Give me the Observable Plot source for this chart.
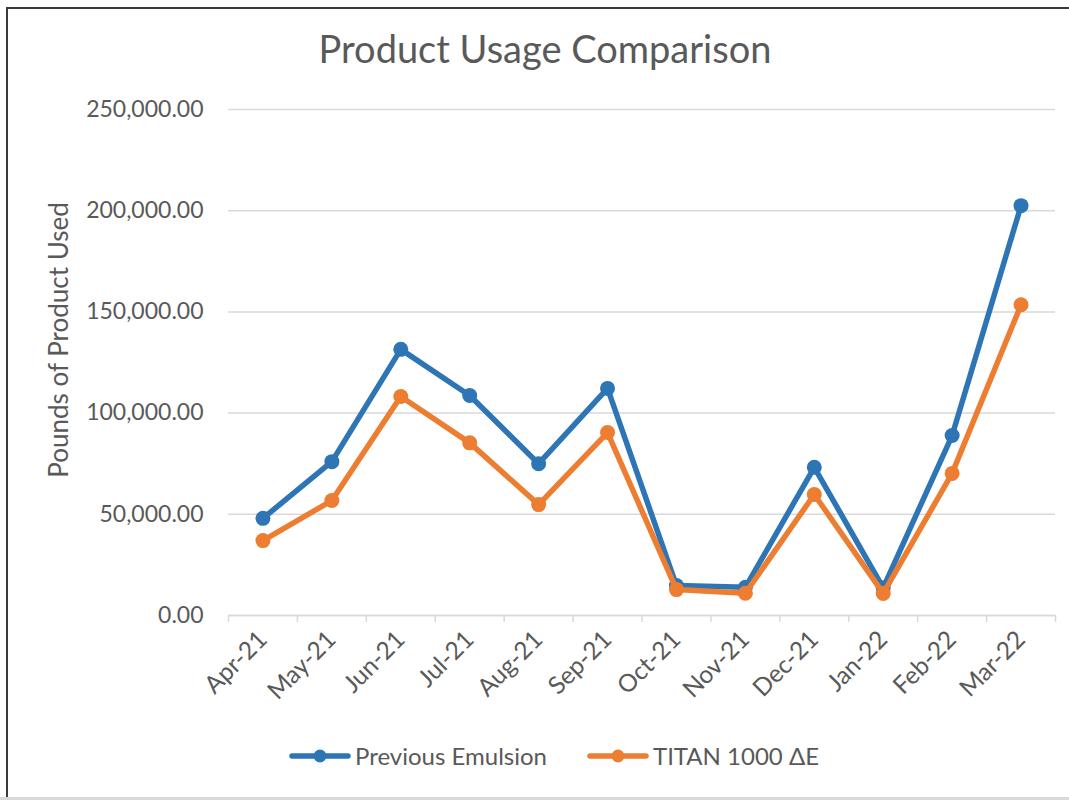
<!DOCTYPE html>
<html>
<head>
<meta charset="utf-8">
<script src="https://cdn.jsdelivr.net/npm/d3@7"></script>
<script src="https://cdn.jsdelivr.net/npm/@observablehq/plot@0.6"></script>
<style>
  body { margin: 0; background: #fff; font-family: Lato, "Open Sans", sans-serif; }
  #wrap { position: relative; width: 1069px; height: 806px; overflow: hidden; background: #fff; }
  #wrap svg.plot { position: absolute; left: 0; top: 0; }
  .bTop { position: absolute; left: 6px; top: 7px; width: 1063px; height: 2px; background: #3a3a3a; }
  .bLeft { position: absolute; left: 6px; top: 7px; width: 2px; height: 792px; background: #3a3a3a; }
  .bBottom { position: absolute; left: 0; top: 797px; width: 1069px; height: 3px; background: #d9d9d9; }
  #title { position: absolute; left: 0; width: 1090px; top: 29px; text-align: center; font-size: 38px; line-height: 1; color: #595959; }
  #ylabel { position: absolute; left: 58px; top: 340px; transform: translate(-50%, -50%) rotate(-90deg); white-space: nowrap; font-size: 26px; line-height: 1; color: #595959; }
  #legend { position: absolute; left: 0; width: 1108px; top: 743px; display: flex; justify-content: center; align-items: center; font-size: 24px; line-height: 26px; color: #595959; }
  .item { display: flex; align-items: center; }
  .item + .item { margin-left: 40px; }
  .item svg { margin-right: 4px; }
</style>
</head>
<body>
<div id="wrap">
  <div class="bTop"></div>
  <div class="bLeft"></div>
  <div class="bBottom"></div>
  <div id="title">Product Usage Comparison</div>
  <div id="ylabel">Pounds of Product Used</div>
  <div id="legend"></div>
</div>
<script>
// ---- data ----
const months = ["Apr-21", "May-21", "Jun-21", "Jul-21", "Aug-21", "Sep-21", "Oct-21", "Nov-21", "Dec-21", "Jan-22", "Feb-22", "Mar-22"];
const previousEmulsion = [48000, 76000, 131500, 108700, 75000, 112200, 14800, 13900, 73200, 13700, 88900, 202500];
const titan1000 = [37000, 56800, 108200, 85300, 54800, 90400, 12800, 11000, 59800, 10900, 70200, 153500];
const seriesNames = ["Previous Emulsion", "TITAN 1000 \u0394E"];
const seriesColors = ["#2E75B6", "#ED7D31"];
const yTicks = [0, 50000, 100000, 150000, 200000, 250000];

const rows = [];
[previousEmulsion, titan1000].forEach((vals, s) => {
  vals.forEach((v, i) => rows.push({series: seriesNames[s], i, month: months[i], value: v}));
});

const fmt = d3.format(",.2f");
const textColor = "#595959";

const marks = [
  Plot.gridY(yTicks, {stroke: "#d9d9d9", strokeOpacity: 1, strokeWidth: 1.5}),
  Plot.axisY(yTicks, {tickSize: 0, tickPadding: 25, tickFormat: fmt, fontSize: 23, fill: textColor, label: null}),
  // category boundary tick marks
  Plot.axisX(d3.range(-0.5, months.length, 1), {tickSize: 7, tickFormat: () => "", stroke: "#d9d9d9", strokeWidth: 1.5, label: null}),
  Plot.axisX(d3.range(months.length), {tickSize: 0, tickPadding: 20, tickRotate: -45, tickFormat: i => months[i], fontSize: 24.5, fill: textColor, label: null}),
  Plot.ruleY([0], {stroke: "#d9d9d9", strokeWidth: 1.5})
];
seriesNames.forEach((name, s) => {
  const data = rows.filter(d => d.series === name);
  marks.push(Plot.line(data, {x: "i", y: "value", stroke: seriesColors[s], strokeWidth: 5.5, strokeLinejoin: "round", strokeLinecap: "round"}));
  marks.push(Plot.dot(data, {x: "i", y: "value", fill: seriesColors[s], r: 7.5, stroke: "none"}));
});

const chart = Plot.plot({
  width: 1069,
  height: 806,
  marginTop: 109,
  marginBottom: 191,
  marginLeft: 228,
  marginRight: 14,
  style: {fontFamily: "Lato, 'Open Sans', sans-serif", background: "transparent", color: textColor},
  x: {type: "linear", domain: [-0.5, months.length - 0.5]},
  y: {domain: [0, 250000]},
  marks
});
chart.classList.add("plot");
document.getElementById("wrap").appendChild(chart);

// legend
const legend = document.getElementById("legend");
seriesNames.forEach((name, s) => {
  const item = document.createElement("div");
  item.className = "item";
  item.innerHTML = `<svg width="62" height="16"><line x1="3" y1="8" x2="59" y2="8" stroke="${seriesColors[s]}" stroke-width="5.5" stroke-linecap="round"/><circle cx="31" cy="8" r="6.5" fill="${seriesColors[s]}"/></svg><span>${name}</span>`;
  legend.appendChild(item);
});
</script>
</body>
</html>
